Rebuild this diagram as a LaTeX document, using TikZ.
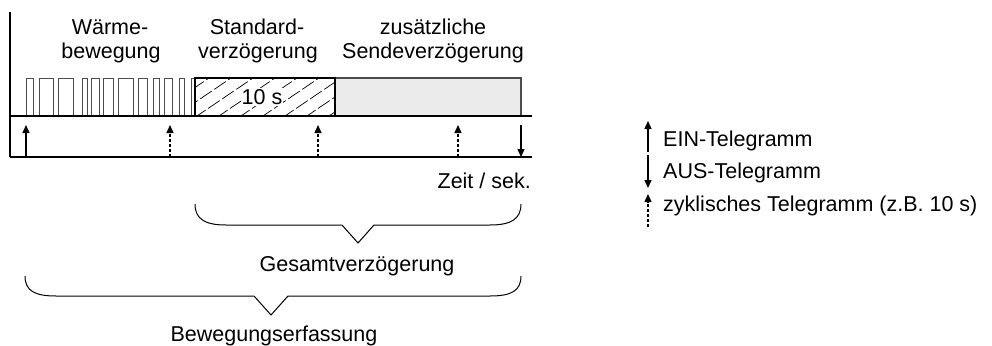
\documentclass[tikz,border=0pt]{standalone}
\usepackage{fontspec}
\setmainfont{Liberation Sans}
\usetikzlibrary{arrows.meta}
\begin{document}
\begin{tikzpicture}[x=1pt,y=-1pt,
  txt/.style={font=\fontsize{21.5}{24}\selectfont, inner sep=0pt},
  axis/.style={line width=1.4pt, black},
  pulse/.style={draw=black!70, line width=0.9pt},
  tel/.style={line width=1.4pt, -{Triangle[length=8pt,width=7pt]}},
  cyc/.style={tel, dash pattern=on 3pt off 2pt},
  brace/.style={line width=1pt, black}]
\useasboundingbox (0,0) rectangle (992,345);

% texts top
\node[txt, anchor=base] (w1) at (110,35) {Wärme-};
\node[txt, anchor=base] (w2) at (111,59) {bewegung};
\node[txt, anchor=base] (s1) at (257,35) {Standard-};
\node[txt, anchor=base] (s2) at (258,59) {verzögerung};
\node[txt, anchor=base] (z1) at (433,35) {zusätzliche};
\node[txt, anchor=base] (z2) at (433,59) {Sendeverzögerung};

% pulses
\foreach \a/\b in {26/33,39/53,58/73,82/87,91/99,103/113,118/133,138/147,153/159,164/172,179/184,191/194}
  \draw[pulse] (\a,116) -- (\a,78) -- (\b,78) -- (\b,116);

% gray rect
\draw[fill=black!8, draw=black!70, line width=1.2pt] (335,116) rectangle (521,78);

% hatched rect
\begin{scope}
  \clip (195,78) rectangle (335,116);
  \foreach \x in {150,172,...,360}
    \draw[line width=0.7pt, dash pattern=on 14pt off 3pt] (\x,118) -- (\x+62,76);
\end{scope}
\node[txt, fill=white, inner sep=1pt] (ten) at (262,97) {10 s};
\draw[line width=1.4pt] (195,116) -- (195,78) -- (335,78) -- (335,116);

% axes
\draw[axis] (10,12) -- (10,157);
\draw[axis] (10,116) -- (532,116);
\draw[axis] (10,157) -- (532,157);

% telegram arrows
\coordinate (a0) at (26,157);  \coordinate (a0t) at (26,125);
\coordinate (a1) at (170,157); \coordinate (a1t) at (170,125);
\coordinate (a2) at (318,157); \coordinate (a2t) at (318,125);
\coordinate (a3) at (458,157); \coordinate (a3t) at (458,125);
\coordinate (d0) at (521,125); \coordinate (d0t) at (521,157);
\draw[tel] (a0) -- (a0t);
\draw[cyc] (a1) -- (a1t);
\draw[cyc] (a2) -- (a2t);
\draw[cyc] (a3) -- (a3t);
\draw[tel] (d0) -- (d0t);

\node[txt, anchor=base east] (zeit) at (531,188) {Zeit / sek.};

% braces
\draw[brace] (195,204) .. controls (195,219) and (205,225) .. (226,225) -- (342,225) -- (358,243) -- (374,225) -- (490,225) .. controls (511,225) and (521,219) .. (521,204);
\node[txt, anchor=base] (gv) at (357,271) {Gesamtverzögerung};
\draw[brace] (25,276) .. controls (25,291) and (35,296) .. (56,296) -- (254,296) -- (271,315) -- (288,296) -- (490,296) .. controls (511,296) and (521,291) .. (521,276);
\node[txt, anchor=base] (be) at (274,341) {Bewegungserfassung};

% legend
\coordinate (l1b) at (648,152); \coordinate (l1t) at (648,121);
\coordinate (l2b) at (648,155); \coordinate (l2t) at (648,188);
\coordinate (l3b) at (648,227); \coordinate (l3t) at (648,194);
\draw[tel] (l1b) -- (l1t);
\draw[tel] (l2b) -- (l2t);
\draw[cyc] (l3b) -- (l3t);
\node[txt, anchor=base west] (ein) at (663,146) {EIN-Telegramm};
\node[txt, anchor=base west] (aus) at (663,178) {AUS-Telegramm};
\node[txt, anchor=base west] (zyk) at (663,211) {zyklisches Telegramm (z.B. 10 s)};
\end{tikzpicture}
\end{document}
